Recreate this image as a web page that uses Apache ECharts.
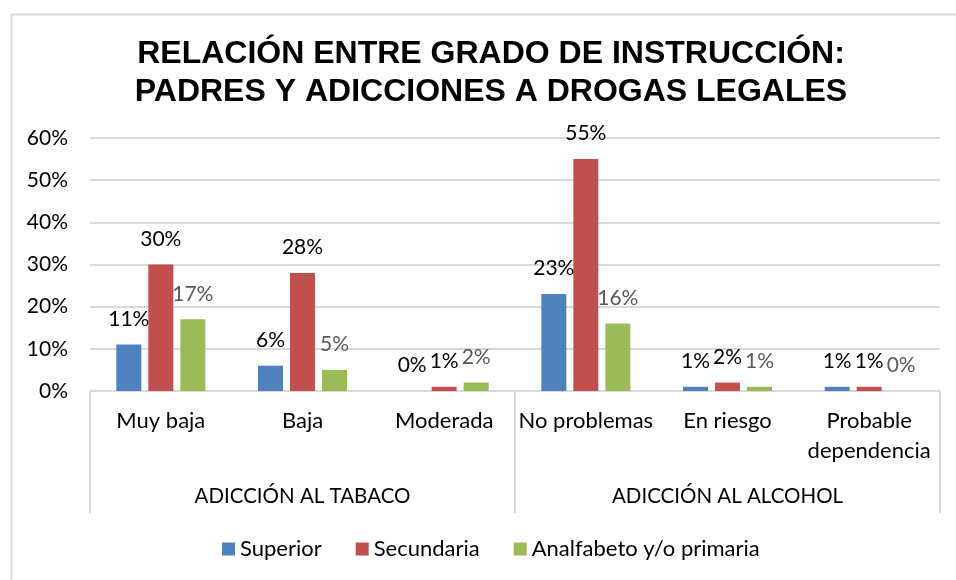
<!DOCTYPE html>
<html>
<head>
<meta charset="utf-8">
<script src="https://cdn.jsdelivr.net/npm/echarts@6/dist/echarts.min.js"></script>
<style>html,body{margin:0;padding:0;background:#fff}#c{width:956px;height:580px}</style>
</head>
<body>
<div id="c"></div>
<script>
const titleText = 'RELACIÓN ENTRE GRADO DE INSTRUCCIÓN:\nPADRES Y ADICCIONES A DROGAS LEGALES';
const categories = ['Muy baja', 'Baja', 'Moderada', 'No problemas', 'En riesgo', 'Probable\ndependencia'];
const groups = ['ADICCIÓN AL TABACO', 'ADICCIÓN AL ALCOHOL'];
const seriesNames = ['Superior', 'Secundaria', 'Analfabeto y/o primaria'];
const superior = [11, 6, 0, 23, 1, 1];
const secundaria = [30, 28, 1, 55, 2, 1];
const analfabeto = [17, 5, 2, 16, 1, 0];
const yTicks = [0, 10, 20, 30, 40, 50, 60];

const colors = ['#4F81BD', '#C0504D', '#9BBB59'];
const labelColors = ['#000000', '#000000', '#595959'];
const FONT = 'Lato, "Open Sans", sans-serif';

const chart = echarts.init(document.getElementById('c'), null, {renderer: 'canvas'});
const values = [superior, secundaria, analfabeto];
chart.setOption({
  animation: false,
  color: colors,
  textStyle: {fontFamily: FONT},
  graphic: [{
    type: 'rect', left: 9, top: 12, shape: {width: 1000, height: 1000},
    style: {fill: 'none', stroke: '#d9d9d9', lineWidth: 2}, z: -1
  }],
  title: {
    text: titleText,
    left: 486, textAlign: 'center', top: 30,
    textStyle: {fontFamily: 'Liberation Sans, Arial, sans-serif', fontWeight: 'bold', fontSize: 32, lineHeight: 38, color: '#000'}
  },
  legend: {
    data: seriesNames,
    bottom: 20, left: 222, padding: 0,
    itemWidth: 13, itemHeight: 13, itemGap: 34,
    icon: 'rect',
    textStyle: {fontFamily: FONT, fontSize: 22, color: '#000'}
  },
  grid: {left: 90, right: 16, top: 138, bottom: 189, containLabel: false},
  xAxis: [{
    type: 'category', data: categories, position: 'bottom',
    axisLine: {show: true, lineStyle: {color: '#d9d9d9', width: 1}},
    axisTick: {show: false},
    axisLabel: {fontFamily: FONT, fontSize: 22, color: '#000', margin: 15, lineHeight: 30, interval: 0}
  }, {
    type: 'category', data: groups, position: 'bottom',
    axisLine: {show: false},
    axisTick: {show: true, length: 122, lineStyle: {color: '#d9d9d9', width: 2}},
    axisLabel: {fontFamily: FONT, fontSize: 20.5, color: '#000', margin: 95, interval: 0}
  }],
  yAxis: {
    type: 'value', min: 0, max: 60, interval: 10,
    axisLine: {show: false}, axisTick: {show: false},
    splitLine: {lineStyle: {color: '#d9d9d9', width: 2}},
    axisLabel: {fontFamily: FONT, fontSize: 21, color: '#000', margin: 22, formatter: v => v + '%'}
  },
  series: seriesNames.map((name, i) => ({
    name, type: 'bar', xAxisIndex: 0, data: values[i],
    barWidth: 25, barGap: '28%',
    itemStyle: {color: colors[i]},
    label: {show: true, position: 'top', distance: 15, fontFamily: FONT, fontSize: 21, color: labelColors[i], formatter: p => p.value + '%'}
  }))
});
</script>
</body>
</html>
